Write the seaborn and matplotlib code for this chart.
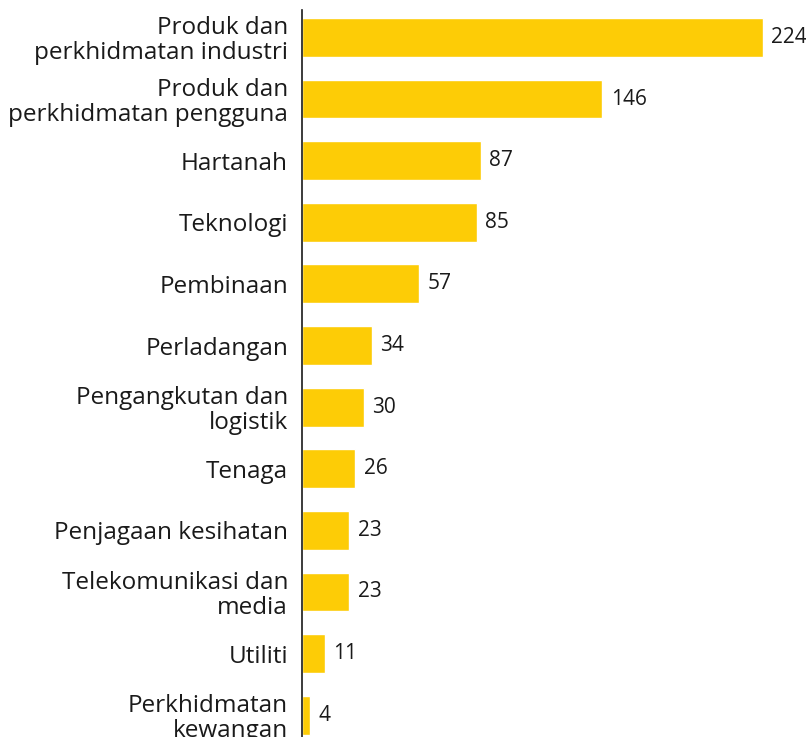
import matplotlib
matplotlib.use("Agg")
import matplotlib.pyplot as plt
import seaborn as sns
import pandas as pd

categories = [
    "Produk dan\nperkhidmatan industri",
    "Produk dan\nperkhidmatan pengguna",
    "Hartanah",
    "Teknologi",
    "Pembinaan",
    "Perladangan",
    "Pengangkutan dan\nlogistik",
    "Tenaga",
    "Penjagaan kesihatan",
    "Telekomunikasi dan\nmedia",
    "Utiliti",
    "Perkhidmatan\nkewangan",
]
values = [224, 146, 87, 85, 57, 34, 30, 26, 23, 23, 11, 4]

df = pd.DataFrame({"cat": categories, "val": values})

sns.set_theme(style="white")
plt.rcParams["font.family"] = ["Open Sans", "DejaVu Sans"]

fig = plt.figure(figsize=(8.06, 7.37), dpi=100)
ax = fig.add_axes([302 / 806, 0, (806 - 302) / 806, 727 / 737])

sns.barplot(data=df, x="val", y="cat", orient="h", color="#FDCC06",
            saturation=1, width=0.63, ax=ax)

ax.set_xlim(0, 245)
ax.set_ylim(11.355, -0.446)

for c in ax.containers:
    ax.bar_label(c, labels=[str(v) for v in values], padding=6,
                 fontsize=15, color="#1a1a1a")

ax.set_xlabel("")
ax.set_ylabel("")
ax.set_xticks([])
ax.tick_params(axis="y", length=0, pad=10, labelsize=17.5, labelcolor="#1a1a1a")
for lbl in ax.get_yticklabels():
    lbl.set_linespacing(1.05)
for s in ["top", "right", "bottom"]:
    ax.spines[s].set_visible(False)
ax.spines["left"].set_color("#1a1a1a")
ax.spines["left"].set_linewidth(1.2)

fig.savefig("out.png", dpi=100)
